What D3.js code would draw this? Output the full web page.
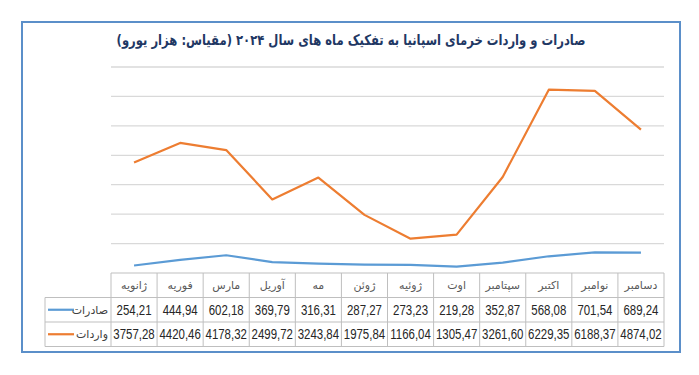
<!DOCTYPE html>
<html>
<head>
<meta charset="utf-8">
<script src="https://cdn.jsdelivr.net/npm/d3@7"></script>
<style>
    body { margin: 0; background: #fff; }
    svg { display: block; }
</style>
</head>
<body>
<div class="chart_container"></div>
<script>
// data
const months = ["ژانویه", "فوریه", "مارس", "آوریل", "مه", "ژوئن", "ژوئیه", "اوت", "سپتامبر", "اکتبر", "نوامبر", "دسامبر"];
const exportsVals = [254.21, 444.94, 602.18, 369.79, 316.31, 287.27, 273.23, 219.28, 352.87, 568.08, 701.54, 689.24];
const importsVals = [3757.28, 4420.46, 4178.32, 2499.72, 3243.84, 1975.84, 1166.04, 1305.47, 3261.6, 6229.35, 6188.37, 4874.02];
const seriesNames = ["صادرات", "واردات"];
const seriesColors = ["#5b9bd5", "#ed7d31"];
const titleText = "صادرات و واردات خرمای اسپانیا به تفکیک ماه های سال ۲۰۲۴ (مقیاس: هزار یورو)";

const W = 699, H = 375;
const plotLeft = 111, plotRight = 664;
const plotTop = 67, plotBottom = 273;
const rowH = 24.5;
const legendLeft = 45;

const svg = d3.select(".chart_container").append("svg").attr("width", W).attr("height", H);

// outer frame
svg.append("rect").attr("x", 22).attr("y", 22).attr("width", 658).attr("height", 330)
    .attr("fill", "#fff").attr("stroke", "#5b8fc9").attr("stroke-width", 2);

// title (squeezed a bit to match the narrow font of the original)
svg.append("text")
    .attr("transform", "translate(351,45) scale(0.8,1)")
    .attr("direction", "rtl").attr("text-anchor", "middle")
    .style("font-family", "'DejaVu Sans', sans-serif").style("font-size", "14.5px").style("font-weight", "bold")
    .attr("fill", "#1f3864").text(titleText);

// scales
const x = d3.scaleBand().domain(months).range([plotLeft, plotRight]).padding(0);
const cx = (m) => x(m) + x.bandwidth() / 2;
const y = d3.scaleLinear().domain([0, 7000]).range([plotBottom, plotTop]);

// gridlines
svg.append("g").selectAll("line").data(y.ticks(7).filter((t) => t > 0)).enter().append("line")
    .attr("x1", plotLeft).attr("x2", plotRight)
    .attr("y1", (d) => y(d)).attr("y2", (d) => y(d))
    .attr("stroke", "#d9d9d9").attr("stroke-width", 1.3);

// lines
const line = d3.line().x((d, i) => cx(months[i])).y((d) => y(d));
[exportsVals, importsVals].forEach((vals, k) => {
    svg.append("path").datum(vals).attr("d", line)
        .attr("fill", "none").attr("stroke", seriesColors[k]).attr("stroke-width", 2.2)
        .attr("stroke-linejoin", "round");
});

// data table
const table = svg.append("g");
const gridColor = "#bfbfbf";
const tTop = plotBottom;
const tBottom = tTop + rowH * 3;

// horizontal table lines
table.append("line").attr("x1", plotLeft).attr("x2", plotRight).attr("y1", tTop).attr("y2", tTop).attr("stroke", gridColor);
[1, 2, 3].forEach((r) => {
    table.append("line").attr("x1", legendLeft).attr("x2", plotRight)
        .attr("y1", tTop + r * rowH).attr("y2", tTop + r * rowH).attr("stroke", gridColor);
});
// vertical table lines
table.append("line").attr("x1", legendLeft).attr("x2", legendLeft).attr("y1", tTop + rowH).attr("y2", tBottom).attr("stroke", gridColor);
months.forEach((m) => {
    table.append("line").attr("x1", x(m)).attr("x2", x(m)).attr("y1", tTop).attr("y2", tBottom).attr("stroke", gridColor);
});
table.append("line").attr("x1", plotRight).attr("x2", plotRight).attr("y1", tTop).attr("y2", tBottom).attr("stroke", gridColor);

// month header
table.selectAll(".month").data(months).enter().append("text")
    .attr("x", (d) => cx(d)).attr("y", tTop + rowH / 2 + 4)
    .attr("text-anchor", "middle")
    .style("font-family", "'DejaVu Sans', sans-serif").style("font-size", "11px")
    .attr("fill", "#595959").text((d) => d);

// values, narrowed so that 7 characters fit a cell
const fmt = (v) => d3.format(".2f")(v).replace(".", ",");
[exportsVals, importsVals].forEach((vals, k) => {
    const ry = tTop + rowH * (k + 1);
    table.selectAll(".v" + k).data(vals).enter().append("text")
        .attr("transform", (d, i) => "translate(" + cx(months[i]) + "," + (ry + rowH / 2 + 5) + ") scale(0.79,1)")
        .attr("text-anchor", "middle")
        .style("font-family", "'Liberation Sans', Arial, sans-serif").style("font-size", "14.5px")
        .attr("fill", "#262626").text((d) => fmt(d));
    // legend key
    table.append("line").attr("x1", legendLeft + 3).attr("x2", legendLeft + 29)
        .attr("y1", ry + rowH / 2).attr("y2", ry + rowH / 2)
        .attr("stroke", seriesColors[k]).attr("stroke-width", 2.2);
    table.append("text").attr("x", plotLeft - 3).attr("y", ry + rowH / 2 + 4)
        .attr("text-anchor", "end")
        .style("font-family", "'DejaVu Sans', sans-serif").style("font-size", "11px")
        .attr("fill", "#404040").text(seriesNames[k]);
});
</script>
</body>
</html>
